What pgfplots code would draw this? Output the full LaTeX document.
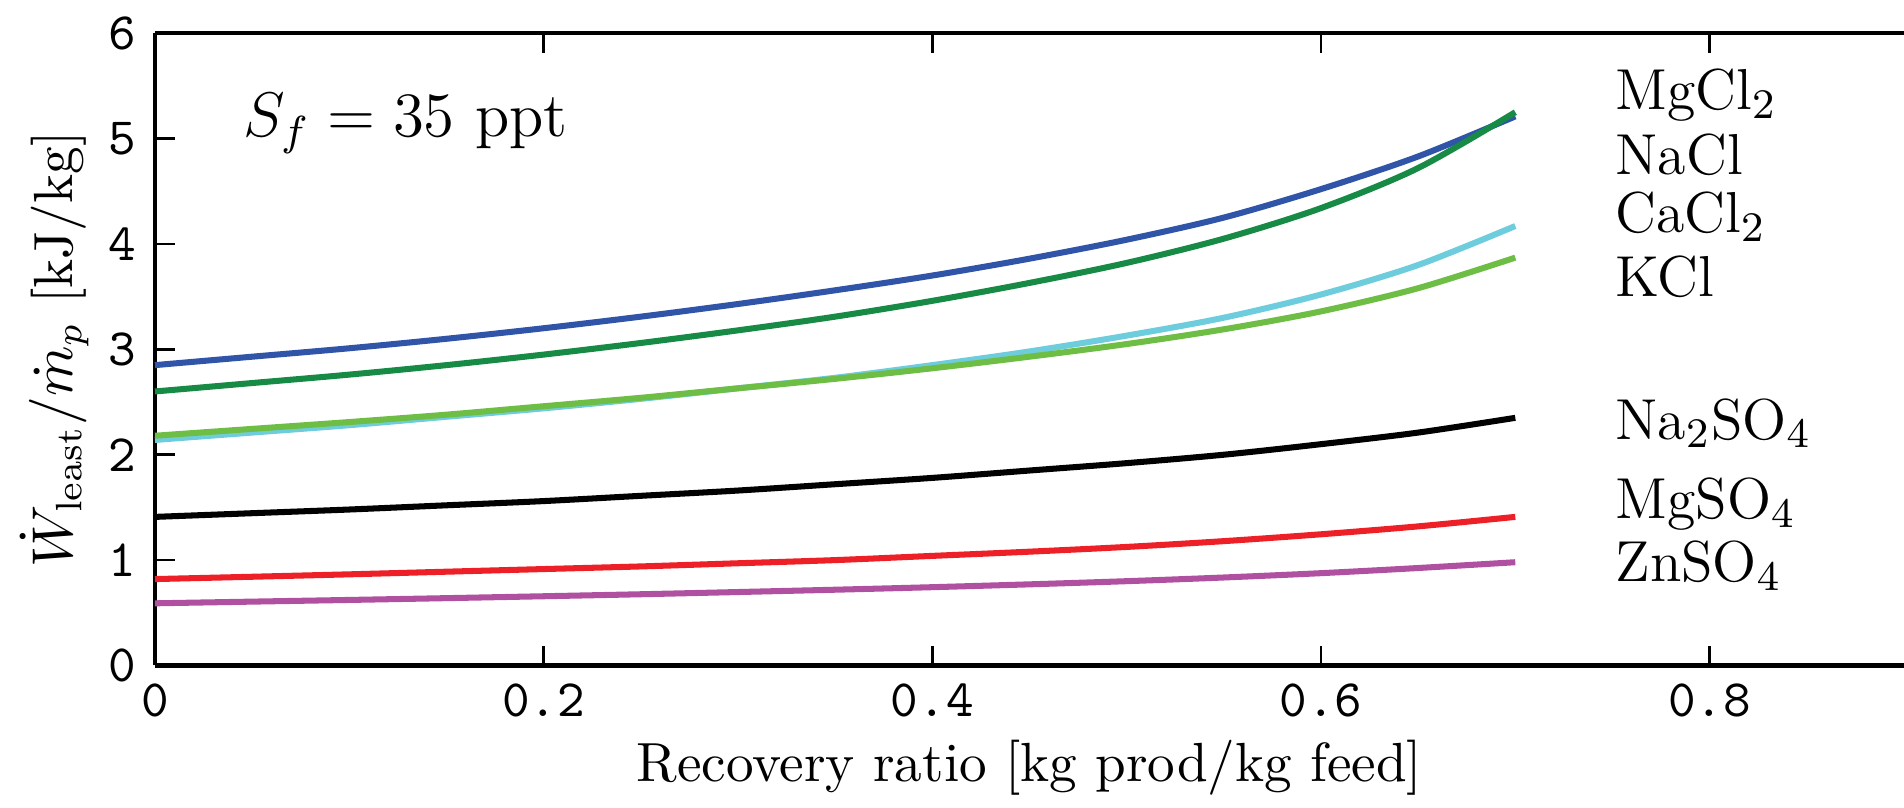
\documentclass[border=0pt]{standalone}
\usepackage{pgfplots}
\pgfplotsset{compat=1.18}
\usepackage{pgfplotstable}

\definecolor{cNaCl}{HTML}{2F54A8}
\definecolor{cMgCl}{HTML}{178A45}
\definecolor{cCaCl}{HTML}{6ECDDC}
\definecolor{cKCl}{HTML}{6EBE46}
\definecolor{cMgSO}{HTML}{EC2026}
\definecolor{cZnSO}{HTML}{B050A0}

% least work [kJ/kg] vs recovery ratio
\pgfplotstableread{
r    NaCl MgCl CaCl KCl   NaSO  MgSO  ZnSO
0.00 2.85 2.60 2.14 2.18  1.41  0.82  0.59
0.05 2.93 2.68 2.21 2.245 1.445 0.842 0.606
0.10 3.01 2.76 2.28 2.31  1.48  0.865 0.622
0.15 3.10 2.85 2.36 2.38  1.52  0.89  0.639
0.20 3.20 2.95 2.44 2.46  1.56  0.915 0.657
0.25 3.31 3.06 2.53 2.54  1.61  0.94  0.676
0.30 3.43 3.18 2.63 2.63  1.66  0.97  0.697
0.35 3.56 3.31 2.73 2.72  1.72  1.00  0.719
0.40 3.70 3.46 2.85 2.82  1.78  1.04  0.743
0.45 3.86 3.63 2.98 2.93  1.85  1.08  0.77
0.50 4.04 3.82 3.13 3.05  1.92  1.125 0.80
0.55 4.25 4.05 3.30 3.19  2.00  1.18  0.835
0.60 4.52 4.34 3.52 3.36  2.10  1.245 0.876
0.65 4.83 4.72 3.80 3.58  2.21  1.32  0.925
0.70 5.21 5.25 4.17 3.87  2.35  1.41  0.98
}\tWork

\begin{document}
\begin{tikzpicture}
\path[use as bounding box] (-29.5pt,-27pt) rectangle (333pt,126.7pt);
\begin{axis}[
  scale only axis, width=333pt, height=120.4pt,
  xmin=0, xmax=0.9, ymin=0, ymax=6,
  axis x line=box, axis y line=left,
  axis line style={-, line width=0.8pt},
  xtick={0,0.2,0.4,0.6,0.8}, ytick={0,1,...,6},
  tick align=inside, major tick length=3.8pt,
  tick style={line width=0.5pt, black},
  /pgf/number format/assume math mode=true,
  tick label style={font=\ttfamily},
  label style={font=\fontsize{10.5}{12}\selectfont},
  xlabel={Recovery ratio [kg prod/kg feed]},
  xlabel style={yshift=2.5pt},
  ylabel={$\dot{W}_{\mathrm{least}}/\dot{m}_p$ [kJ/kg]},
  ylabel shift=-3pt,
  every axis plot/.append style={line width=1.15pt, smooth},
  clip=false,
]
\addplot[cNaCl] table[x=r,y=NaCl] {\tWork};
\addplot[cMgCl] table[x=r,y=MgCl] {\tWork};
\addplot[cCaCl] table[x=r,y=CaCl] {\tWork};
\addplot[cKCl]  table[x=r,y=KCl]  {\tWork};
\addplot[black] table[x=r,y=NaSO] {\tWork};
\addplot[cMgSO] table[x=r,y=MgSO] {\tWork};
\addplot[cZnSO] table[x=r,y=ZnSO] {\tWork};

\begin{scope}[every node/.style={anchor=west, inner sep=0pt, font=\fontsize{11}{13}\selectfont}]
\node at (axis cs:0.751,5.41) {MgCl$_2$};
\node at (axis cs:0.751,4.85) {NaCl};
\node at (axis cs:0.751,4.26) {CaCl$_2$};
\node at (axis cs:0.751,3.69) {KCl};
\node at (axis cs:0.751,2.30) {Na$_2$SO$_4$};
\node at (axis cs:0.751,1.53) {MgSO$_4$};
\node at (axis cs:0.751,0.95) {ZnSO$_4$};
\end{scope}
\node[anchor=west, inner sep=0pt, font=\fontsize{12}{14}\selectfont] at (axis cs:0.045,5.14) {$S_f = 35$ ppt};
\end{axis}
\end{tikzpicture}
\end{document}
